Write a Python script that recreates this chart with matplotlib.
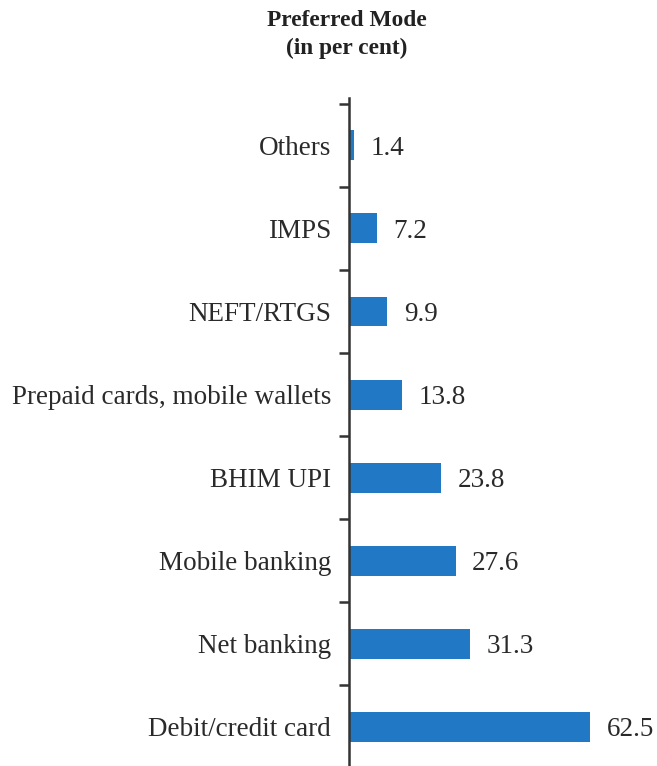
import numpy as np
import matplotlib.pyplot as plt

# Data
modes = ["Debit/credit card", "Net banking", "Mobile banking", "BHIM UPI",
         "Prepaid cards, mobile wallets", "NEFT/RTGS", "IMPS", "Others"]
shares = [62.5, 31.3, 27.6, 23.8, 13.8, 9.9, 7.2, 1.4]

bar_color = "#2178c4"
text_color = "#2a2a2a"

fig = plt.figure(figsize=(6.57, 7.66), dpi=100)
ax = fig.add_axes([349 / 657, 0.0, 301 / 657, 1 - 98 / 766])

y = np.arange(len(modes))
ax.barh(y, shares, height=0.36, color=bar_color)

for yi, v in zip(y, shares):
    ax.annotate(f"{v:.1f}", (v, yi), xytext=(12, 0), textcoords="offset points",
                va="center_baseline", ha="left", fontsize=19.5, family="Liberation Serif",
                color=text_color)

ax.set_xlim(0, 78)
ax.set_ylim(-0.47, 7.57)

# labels at bar centres, tick marks between categories
ax.set_yticks(y)
ax.set_yticklabels(modes, fontsize=19.5, family="Liberation Serif", color=text_color)
ax.tick_params(axis="y", which="major", length=0, pad=13)
ax.set_yticks(np.arange(0.5, 8, 1), minor=True)
ax.tick_params(axis="y", which="minor", length=7, width=1.8, color="#333333")

ax.set_xticks([])
for s in ["top", "right", "bottom"]:
    ax.spines[s].set_visible(False)
ax.spines["left"].set_linewidth(1.8)
ax.spines["left"].set_color("#333333")

fig.text(347 / 657, 1 - 20 / 766, "Preferred Mode", ha="center", va="center",
         fontsize=16.8, fontweight="bold", family="Liberation Serif", color="#222222")
fig.text(347 / 657, 1 - 48 / 766, "(in per cent)", ha="center", va="center",
         fontsize=16.8, fontweight="bold", family="Liberation Serif", color="#222222")

fig.savefig("out.png", dpi=100)
